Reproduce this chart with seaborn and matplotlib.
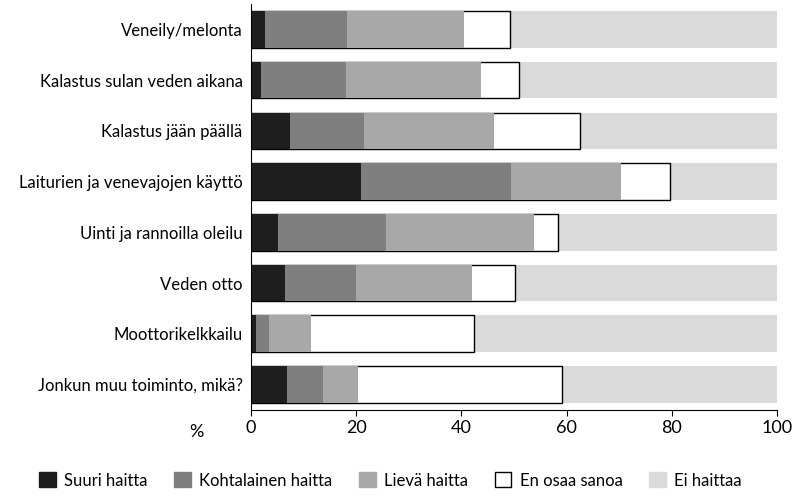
import matplotlib
matplotlib.use("Agg")
import matplotlib.pyplot as plt
import seaborn as sns
import pandas as pd
import numpy as np
from matplotlib.patches import Patch

categories = ["Veneily/melonta", "Kalastus sulan veden aikana", "Kalastus jään päällä",
              "Laiturien ja venevajojen käyttö", "Uinti ja rannoilla oleilu", "Veden otto",
              "Moottorikelkkailu", "Jonkun muu toiminto, mikä?"]
suuri = [2.7, 1.9, 7.4, 20.9, 5.1, 6.5, 0.9, 6.8]
kohtalainen = [15.6, 16.2, 14.1, 28.5, 20.6, 13.5, 2.5, 6.9]
lieva = [22.2, 25.6, 24.7, 20.9, 28.1, 22.0, 8.0, 6.6]
en_osaa = [8.7, 7.2, 16.3, 9.4, 4.6, 8.2, 31.0, 38.8]
ei = [50.8, 49.1, 37.5, 20.3, 41.6, 49.8, 57.6, 40.9]

series = ["Suuri haitta", "Kohtalainen haitta", "Lievä haitta", "En osaa sanoa", "Ei haittaa"]
colors = ["#1e1e1e", "#7f7f7f", "#a8a8a8", "#ffffff", "#dadada"]
vals = np.array([suuri, kohtalainen, lieva, en_osaa, ei])
cum = np.cumsum(vals, axis=0)

plt.rcParams["font.family"] = "Lato"
fig = plt.figure(figsize=(7.97, 5.01), dpi=100)
ax = fig.add_axes([0.315, 0.182, 0.66, 0.81])
for i in range(4, -1, -1):
    df = pd.DataFrame({"cat": categories, "v": cum[i]})
    sns.barplot(data=df, y="cat", x="v", orient="h", color=colors[i], width=0.72,
                edgecolor="black" if i == 3 else colors[i], linewidth=1.0 if i == 3 else 0,
                ax=ax, saturation=1)
ax.set_xlim(0, 100)
ax.set_ylim(7.5, -0.5)
ax.set_xticks([0, 20, 40, 60, 80, 100])
ax.set_xlabel("")
ax.set_ylabel("")
ax.tick_params(axis="x", labelsize=13, length=4, color="black")
ax.tick_params(axis="y", labelsize=12, length=0, pad=6)
for s in ["top", "right"]:
    ax.spines[s].set_visible(False)
ax.spines["left"].set_color("black")
ax.spines["bottom"].set_color("black")
ax.text(-0.09, -0.035, "%", transform=ax.transAxes, fontsize=13, ha="right", va="top")
handles = [Patch(facecolor=c, edgecolor="black" if c == "#ffffff" else c) for c in colors]
fig.legend(handles, series, loc="lower center", bbox_to_anchor=(0.49, -0.005), ncol=5,
           frameon=False, fontsize=12, handlelength=1.0, handleheight=1.0,
           columnspacing=1.6, handletextpad=0.5)
fig.savefig("out.png", dpi=100)
